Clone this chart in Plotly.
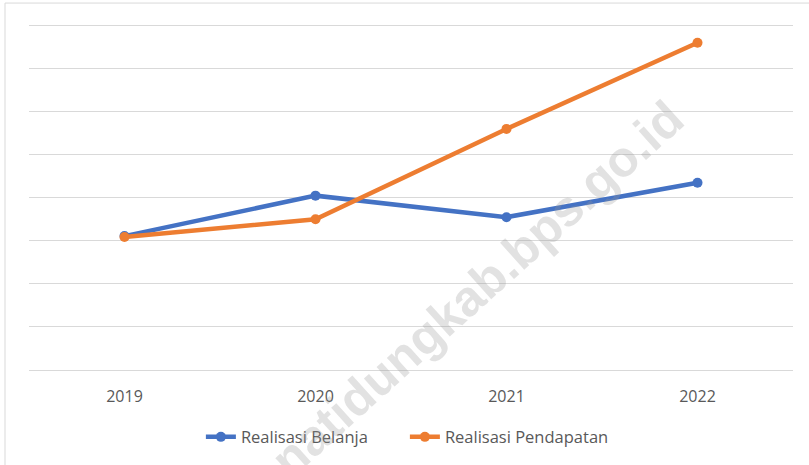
"""
Realisasi Belanja vs Realisasi Pendapatan, 2019-2022 (style Excel).
"""

import plotly.graph_objects as go

# Données (unités arbitraires, pas d'axe Y affiché)
years = ["2019", "2020", "2021", "2022"]
belanja = [311, 405, 355, 435]
pendapatan = [309, 350, 560, 760]

BLUE = "#4472C4"
ORANGE = "#ED7D31"
GRID = "#D9D9D9"
TEXT = "#595959"
FONT = "Open Sans, Noto Sans, sans-serif"

fig = go.Figure()
fig.add_trace(go.Scatter(
    x=years, y=belanja, name="Realisasi Belanja",
    mode="lines+markers",
    line=dict(color=BLUE, width=4.5),
    marker=dict(color=BLUE, size=10),
))
fig.add_trace(go.Scatter(
    x=years, y=pendapatan, name="Realisasi Pendapatan",
    mode="lines+markers",
    line=dict(color=ORANGE, width=4.5),
    marker=dict(color=ORANGE, size=10),
))

# Filigrane
fig.add_annotation(
    text="<b>tanatidungkab.bps.go.id</b>",
    xref="paper", yref="paper", x=0.565, y=0.19,
    xanchor="center", yanchor="middle",
    showarrow=False, textangle=-42,
    font=dict(family="Liberation Sans, Arial, sans-serif", size=50,
              color="rgba(150,150,150,0.28)"),
)

# Cadre extérieur du graphique
fig.add_shape(
    type="rect", xref="paper", yref="paper",
    x0=-0.0314, x1=1.03, y0=-0.3, y1=1.0575,
    line=dict(color=GRID, width=1), fillcolor="rgba(0,0,0,0)",
    layer="below",
)

fig.update_layout(
    width=809, height=465,
    margin=dict(l=29, r=16, t=23, b=94),
    paper_bgcolor="white",
    plot_bgcolor="white",
    font=dict(family=FONT, size=15, color=TEXT),
    showlegend=True,
    legend=dict(
        orientation="h", x=0.492, xanchor="center",
        y=-0.19, yanchor="middle",
        entrywidth=159,
        font=dict(family=FONT, size=16.5, color=TEXT),
        bgcolor="rgba(0,0,0,0)",
    ),
)
fig.update_xaxes(
    type="category", range=[-0.5, 3.5],
    showgrid=False, showline=False, zeroline=False,
    ticks="outside", ticklen=12, tickcolor="rgba(0,0,0,0)",
    tickfont=dict(family=FONT, size=16, color=TEXT),
)
fig.update_yaxes(
    range=[0, 806], dtick=100,
    showgrid=True, gridcolor=GRID, gridwidth=1,
    zeroline=True, zerolinecolor=GRID, zerolinewidth=1,
    showticklabels=False, showline=False,
)

fig.write_html(
    "out.html",
    config={"displayModeBar": False},
    post_script="document.body.style.margin='0';document.body.style.overflow='hidden';",
)
